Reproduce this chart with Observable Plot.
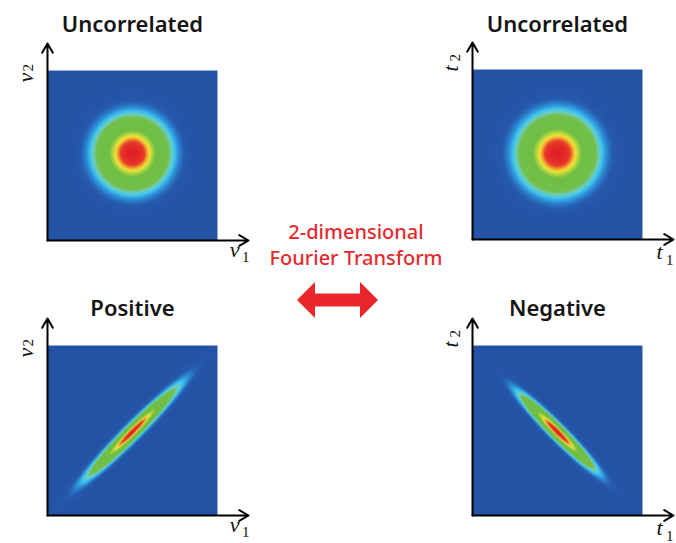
<!DOCTYPE html>
<html>
<head>
<meta charset="utf-8">
<script src="https://cdn.jsdelivr.net/npm/d3@7"></script>
<script src="https://cdn.jsdelivr.net/npm/@observablehq/plot@0.6"></script>
<style>
  html, body { margin: 0; padding: 0; background: #fff; overflow: hidden; }
  #chart { position: relative; width: 676px; height: 543px; overflow: hidden; background: #fff; }
  .panel { position: absolute; }
  .ft { position: absolute; left: 256px; width: 200px; text-align: center; color: #e52a2e;
        font-family: "Noto Sans", sans-serif; font-weight: 500; font-size: 20px; line-height: 26px; white-space: nowrap; }
</style>
</head>
<body>
<div id="chart"></div>
<script>
// ---------------- data ----------------
const titles = ["Uncorrelated", "Uncorrelated", "Positive", "Negative"];
const axisVars = ["ν", "t", "ν", "t"];
const correlation = [0, 0, 1, -1];                 // orientation of the distribution
const sigmaMajor = [0.33, 0.35, 0.495, 0.43];      // width along main axis (half-width units)
const sigmaMinor = [0.33, 0.35, 0.058, 0.058];     // width across main axis
const profileExponent = [2, 2, 1.6, 1.7];
const centerX = [0, 0, 0, 0];
const centerY = [0.024, 0.012, -0.015, -0.018];
const colorStops = [0, 0.03, 0.065, 0.105, 0.145, 0.19, 0.5, 0.62, 0.69, 0.76, 0.84, 1];
const colorRange = ["#2453a4", "#2659ad", "#2d8ad4", "#3ec6f0", "#72cdb8", "#72bf4a",
                    "#6fbe44", "#b8d83e", "#f2e23a", "#f2a22e", "#e83a2a", "#e01f25"];
const transformLines = ["2-dimensional", "Fourier Transform"];
const arrowX = [0, 18, 18, 63, 63, 81];
const arrowHalf = [0, 18, 6.5, 6.5, 18, 0];

// ---------------- layout ----------------
const panelLeft = [0, 425, 0, 425];
const panelTop = [0, -1, 275, 275];
const titleDy = [-19, -18, -10, -10];
const xTip = 1.365, yTip = 1.318;
const labelFont = "'Liberation Serif', 'DejaVu Serif', serif";

const chart = document.getElementById("chart");

function panel(i) {
  const s = correlation[i];
  const fill = (x, y) => {
    const dx = x - centerX[i], dy = y - centerY[i];
    let u = dx, w = dy;
    if (s !== 0) { u = (dx + s * dy) / Math.SQRT2; w = (dx - s * dy) / Math.SQRT2; }
    const r = Math.hypot(u / sigmaMajor[i], w / sigmaMinor[i]);
    return Math.exp(-Math.pow(r, profileExponent[i]));
  };
  const axes = [
    {x1: -1, y1: -1, x2: xTip, y2: -1},
    {x1: -1, y1: -1, x2: -1, y2: yTip}
  ];
  const v = axisVars[i];
  const isT = v === "t";
  const svg = Plot.plot({
    width: 260, height: 275,
    marginLeft: 47, marginRight: 12, marginTop: 43, marginBottom: 35,
    x: {domain: [-1, xTip], axis: null},
    y: {domain: [-1, yTip], axis: null},
    color: {type: "linear", domain: colorStops, range: colorRange, interpolate: "rgb"},
    style: {background: "transparent", overflow: "visible"},
    marks: [
      Plot.raster({fill, x1: -1, x2: 1, y1: -1, y2: 1}),
      Plot.arrow(axes, {x1: "x1", y1: "y1", x2: "x2", y2: "y2", stroke: "#000", strokeWidth: 2, headLength: 8}),
      Plot.text([titles[i]], {x: 0, frameAnchor: "top", dy: titleDy[i], fontSize: 22, fontWeight: 600,
        fontFamily: "'Noto Sans', sans-serif", fill: "#151515", lineAnchor: "middle"}),
      // vertical axis label (rotated)
      Plot.text([v], {frameAnchor: "top-left", dx: -30, dy: isT ? 29 : 39, rotate: -90,
        fontSize: 22, fontStyle: "italic", fontFamily: labelFont, fill: "#111"}),
      Plot.text(["2"], {frameAnchor: "top-left", dx: isT ? -23 : -25, dy: isT ? 19 : 28, rotate: -90,
        fontSize: 15, fontFamily: labelFont, fill: "#111"}),
      // horizontal axis label
      Plot.text([v], {frameAnchor: "bottom-right", dx: isT ? -11 : -9, dy: isT ? 19 : 16,
        fontSize: 22, fontStyle: "italic", fontFamily: labelFont, fill: "#111"}),
      Plot.text(["1"], {frameAnchor: "bottom-right", dx: isT ? 0 : 1, dy: isT ? 25 : 21,
        fontSize: 15, fontFamily: labelFont, fill: "#111"})
    ]
  });
  svg.classList.add("panel");
  svg.style.left = panelLeft[i] + "px";
  svg.style.top = panelTop[i] + "px";
  chart.appendChild(svg);
}

for (let i = 0; i < titles.length; i++) panel(i);

// centre caption
transformLines.forEach((t, k) => {
  const d = document.createElement("div");
  d.className = "ft";
  d.textContent = t;
  d.style.top = (219 + k * 26) + "px";
  chart.appendChild(d);
});

// double-headed arrow
const arrowData = arrowX.map((x, k) => ({x, h: arrowHalf[k]}));
const arrowSvg = Plot.plot({
  width: 81, height: 36, margin: 0,
  x: {domain: [0, 81], axis: null},
  y: {domain: [-18, 18], axis: null},
  style: {background: "transparent", overflow: "visible"},
  marks: [
    Plot.areaY(arrowData, {x: "x", y1: d => -d.h, y2: d => d.h, fill: "#e8262b", curve: "linear"})
  ]
});
arrowSvg.classList.add("panel");
arrowSvg.style.left = "297px";
arrowSvg.style.top = "282px";
chart.appendChild(arrowSvg);
</script>
</body>
</html>
